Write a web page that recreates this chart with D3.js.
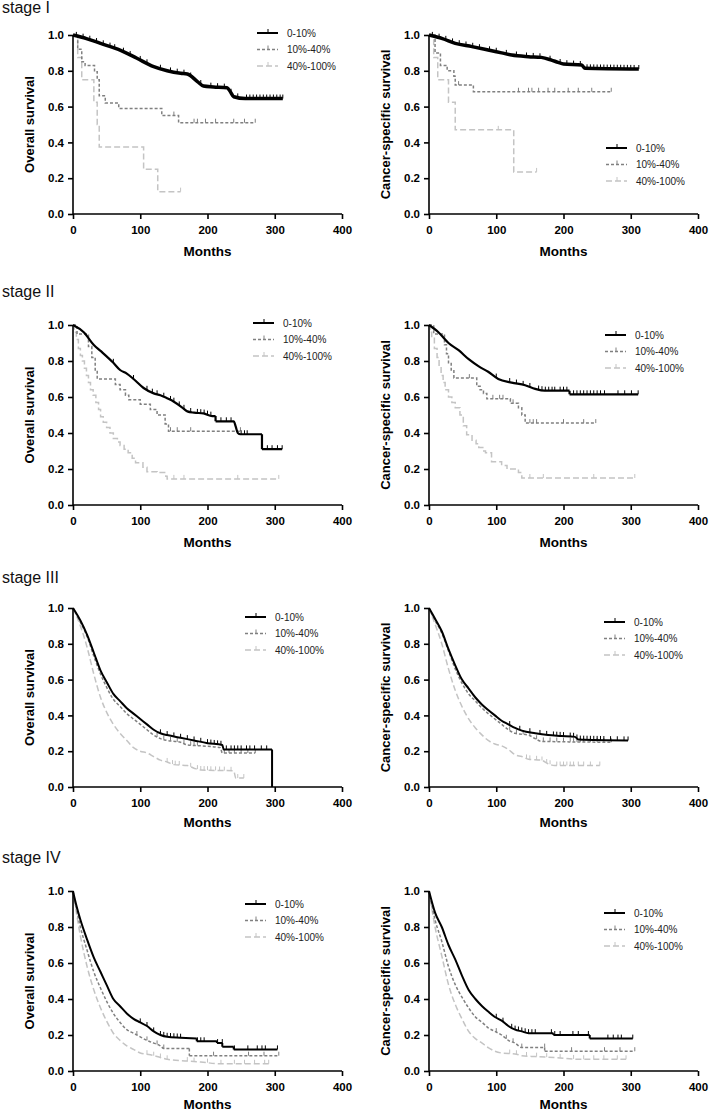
<!DOCTYPE html>
<html>
<head>
<meta charset="utf-8">
<script src="https://cdn.jsdelivr.net/npm/d3@7/dist/d3.min.js"></script>
<style>
html,body{margin:0;padding:0;background:#fff;}
svg{display:block;}
text{font-family:"Liberation Sans",Arial,Helvetica,sans-serif;}
</style>
</head>
<body>
<svg id="chart" width="709" height="1111"></svg>
<script>
// ---------- Data ----------
const stageTitles = ["stage I", "stage II", "stage III", "stage IV"];
const yLabels = ["Overall survival", "Cancer-specific survival"];
const xLabel = "Months";
const groups = ["0-10%", "10%-40%", "40%-100%"];
const xTicks = [0, 100, 200, 300, 400];
const yTicks = [0, 0.2, 0.4, 0.6, 0.8, 1.0];

// Stage I, overall survival
const os1_hi = [[0,1],[20,0.98],[41,0.953],[70,0.916],[95,0.87],[120,0.823],[140,0.8],[160,0.786],[170,0.782],[185,0.74],[194,0.715],[209,0.71],[229,0.705],[234,0.683],[239,0.655],[256,0.645],[312,0.645]];
const os1_hi_c = [5,15,25,35,45,55,62,75,85,100,110,130,145,155,165,175,190,205,215,225,235,245,258,263,268,273,278,283,288,293,298,303,308,312];
const os1_mid = [[0,1],[7,0.92],[13,0.85],[18,0.83],[32,0.795],[36,0.75],[39,0.66],[48,0.62],[68,0.59],[132,0.55],[157,0.51],[271,0.51]];
const os1_mid_c = [150,180,185,197,212,239,255,271];
const os1_lo = [[0,1],[7,0.875],[13,0.75],[31,0.625],[36,0.5],[39,0.375],[105,0.25],[126,0.125],[160,0.125]];
const os1_lo_c = [160];
// Stage I, cancer-specific survival
const css1_hi = [[0,1],[20,0.98],[39,0.953],[64,0.935],[88,0.916],[108,0.9],[123,0.888],[148,0.879],[167,0.875],[182,0.86],[192,0.847],[200,0.838],[227,0.832],[232,0.814],[312,0.81]];
const css1_hi_c = [5,15,25,35,45,55,65,75,90,100,115,130,145,155,165,180,195,205,215,225,235,240,245,250,255,260,265,270,275,280,285,290,295,300,305,312];
const css1_mid = [[0,1],[9,0.9],[17,0.83],[27,0.8],[37,0.77],[39,0.72],[66,0.683],[271,0.683]];
const css1_mid_c = [44,133,148,153,163,177,187,207,222,242,271];
const css1_lo = [[0,1],[7,0.875],[13,0.75],[29,0.625],[39,0.47],[126,0.235],[160,0.235]];
const css1_lo_c = [103,160];

// Stage II, overall survival
const os2_hi = [[0,1],[16,0.96],[31,0.889],[41,0.856],[60,0.79],[70,0.75],[80,0.73],[90,0.70],[105,0.65],[120,0.62],[130,0.61],[140,0.593],[150,0.574],[162,0.543],[170,0.52],[180,0.513],[194,0.509],[207,0.494],[212,0.494],[212,0.465],[239,0.465],[242,0.435],[245,0.40],[249,0.393],[281,0.393],[281,0.31],[311,0.31]];
const os2_hi_c = [60,90,110,118,125,135,145,150,158,165,175,185,190,195,200,205,220,228,235,250,255,259,289,296,304,311];
const os2_mid = [[0,1],[6,0.95],[23,0.88],[28,0.82],[33,0.75],[36,0.70],[63,0.67],[70,0.64],[78,0.61],[83,0.585],[100,0.56],[115,0.53],[125,0.50],[137,0.45],[142,0.41],[249,0.41]];
const os2_mid_c = [145,155,175,249];
const os2_lo = [[0,1],[2,0.96],[5,0.92],[8,0.87],[11,0.83],[14,0.80],[17,0.76],[20,0.72],[23,0.68],[26,0.64],[30,0.61],[34,0.57],[38,0.53],[41,0.49],[45,0.46],[50,0.43],[55,0.40],[60,0.37],[66,0.35],[70,0.33],[76,0.31],[82,0.29],[88,0.26],[93,0.235],[104,0.21],[110,0.185],[125,0.18],[138,0.16],[140,0.145],[306,0.145]];
const os2_lo_c = [150,165,245,306];
// Stage II, cancer-specific survival
const css2_hi = [[0,1],[14,0.96],[29,0.9],[44,0.86],[59,0.81],[74,0.77],[88,0.74],[103,0.70],[123,0.68],[143,0.665],[158,0.645],[172,0.635],[209,0.635],[209,0.615],[311,0.615]];
const css2_hi_c = [100,120,130,140,150,163,168,173,178,183,187,195,200,205,215,220,225,230,235,240,245,250,255,261,281,291,301,311];
const css2_mid = [[0,1],[7,0.95],[23,0.89],[26,0.84],[29,0.79],[33,0.75],[37,0.705],[71,0.66],[76,0.64],[81,0.62],[86,0.59],[121,0.565],[133,0.54],[138,0.50],[143,0.455],[248,0.455]];
const css2_mid_c = [60,95,105,110,125,150,155,160,200,230,248];
const css2_lo = [[0,1],[2,0.96],[4,0.93],[8,0.87],[12,0.82],[15,0.77],[18,0.72],[21,0.68],[24,0.64],[29,0.60],[34,0.57],[39,0.54],[46,0.50],[51,0.44],[56,0.39],[64,0.36],[70,0.34],[74,0.32],[80,0.30],[84,0.29],[93,0.24],[108,0.22],[116,0.20],[133,0.18],[138,0.15],[306,0.15]];
const css2_lo_c = [150,170,245,306];

// Stage III, overall survival
const os3_hi = [[0,1],[11,0.93],[21,0.85],[31,0.75],[41,0.65],[51,0.58],[60,0.52],[70,0.48],[80,0.44],[90,0.41],[100,0.38],[110,0.35],[120,0.32],[130,0.30],[140,0.29],[160,0.275],[180,0.26],[200,0.245],[222,0.235],[224,0.21],[296,0.21],[296,0]];
const os3_hi_c = [130,140,150,160,170,180,190,200,205,210,215,220,228,235,240,245,250,258,263,270,280,288];
const os3_mid = [[0,1],[11,0.92],[21,0.84],[31,0.73],[41,0.63],[51,0.55],[60,0.49],[70,0.45],[80,0.41],[90,0.38],[100,0.35],[110,0.32],[120,0.29],[130,0.27],[140,0.26],[160,0.25],[170,0.235],[190,0.23],[219,0.22],[222,0.19],[271,0.19]];
const os3_mid_c = [125,135,145,155,165,175,180,185,225,232,240,250,260,271];
const os3_lo = [[0,1],[11,0.9],[21,0.78],[31,0.63],[41,0.5],[51,0.41],[60,0.35],[70,0.30],[80,0.26],[90,0.22],[100,0.2],[110,0.19],[120,0.17],[130,0.15],[140,0.14],[150,0.125],[170,0.12],[180,0.105],[190,0.095],[239,0.09],[242,0.05],[254,0.05]];
const os3_lo_c = [140,148,152,158,175,185,190,195,200,205,212,218,225,235,245,254];
// Stage III, cancer-specific survival
const css3_hi = [[0,1],[9,0.94],[19,0.87],[29,0.77],[39,0.68],[49,0.60],[59,0.55],[69,0.50],[79,0.46],[88,0.43],[98,0.40],[108,0.37],[118,0.35],[128,0.33],[138,0.315],[158,0.30],[177,0.29],[197,0.285],[217,0.28],[222,0.265],[296,0.26]];
const css3_hi_c = [120,135,150,165,175,185,190,195,200,210,215,220,225,230,235,240,245,250,255,260,270,280,290,296];
const css3_mid = [[0,1],[9,0.93],[19,0.86],[29,0.76],[39,0.66],[49,0.58],[59,0.52],[69,0.48],[79,0.44],[88,0.41],[98,0.38],[108,0.35],[118,0.32],[128,0.30],[148,0.29],[158,0.27],[167,0.255],[271,0.25]];
const css3_mid_c = [120,130,140,150,160,170,180,190,200,210,215,220,225,230,240,250,260,271];
const css3_lo = [[0,1],[9,0.91],[19,0.80],[29,0.66],[39,0.54],[49,0.45],[59,0.38],[69,0.33],[79,0.29],[88,0.26],[98,0.24],[108,0.23],[118,0.21],[128,0.18],[138,0.17],[148,0.155],[167,0.15],[177,0.13],[187,0.12],[254,0.12]];
const css3_lo_c = [145,150,160,168,175,180,190,195,200,205,210,215,222,230,240,254];

// Stage IV, overall survival
const os4_hi = [[0,1],[3,0.95],[11,0.84],[21,0.73],[31,0.63],[41,0.55],[51,0.47],[60,0.40],[70,0.36],[80,0.32],[90,0.29],[100,0.27],[110,0.25],[120,0.22],[130,0.20],[140,0.19],[160,0.185],[184,0.18],[184,0.165],[214,0.165],[214,0.155],[222,0.155],[222,0.135],[239,0.135],[239,0.12],[304,0.12]];
const os4_hi_c = [100,110,120,130,135,140,145,150,155,160,185,190,195,215,222,240,260,274,281,286,304];
const os4_mid = [[0,1],[11,0.8],[21,0.67],[31,0.55],[41,0.46],[51,0.38],[60,0.32],[70,0.27],[80,0.23],[90,0.21],[100,0.19],[110,0.17],[120,0.155],[130,0.14],[135,0.125],[173,0.125],[173,0.085],[306,0.085]];
const os4_mid_c = [95,110,125,135,209,261,284,306];
const os4_lo = [[0,1],[11,0.75],[21,0.58],[31,0.45],[41,0.35],[51,0.27],[60,0.21],[70,0.17],[80,0.14],[90,0.12],[100,0.10],[115,0.09],[130,0.075],[140,0.065],[170,0.055],[190,0.05],[219,0.04],[291,0.04]];
const os4_lo_c = [110,120,130,140,170,180,200,220,240,255,270,285,291];
// Stage IV, cancer-specific survival
const css4_hi = [[0,1],[9,0.88],[19,0.80],[29,0.70],[39,0.62],[49,0.53],[59,0.45],[69,0.40],[79,0.36],[88,0.33],[98,0.30],[108,0.28],[118,0.25],[128,0.23],[138,0.22],[148,0.21],[185,0.21],[185,0.20],[239,0.20],[239,0.18],[303,0.18]];
const css4_hi_c = [100,110,123,128,133,138,143,148,153,158,182,187,195,214,222,237,266,274,281,286,303];
const css4_mid = [[0,1],[9,0.84],[19,0.72],[29,0.58],[39,0.48],[49,0.41],[59,0.35],[69,0.30],[79,0.27],[88,0.24],[98,0.22],[108,0.20],[118,0.17],[128,0.155],[138,0.13],[172,0.13],[172,0.11],[306,0.11]];
const css4_mid_c = [100,115,125,138,172,212,261,284,306];
const css4_lo = [[0,1],[9,0.80],[19,0.64],[29,0.48],[39,0.37],[49,0.29],[59,0.22],[69,0.18],[79,0.155],[88,0.13],[98,0.11],[108,0.10],[128,0.095],[138,0.085],[158,0.08],[187,0.075],[222,0.065],[293,0.065]];
const css4_lo_c = [120,130,145,160,175,195,215,230,245,260,280,293];

// ---------- Layout / styles ----------
const colX = [73, 429];
const plotW = 269;
const rowTop = [35, 325, 608, 891];
const rowH = [179, 180, 179, 180];
const titleY = [13, 297, 583, 863];
const monthsDy = [42, 41.5, 39.5, 37.5];
const styles = [
  {color:"#000000", width:2,   dash:null},
  {color:"#808080", width:1.5, dash:"3,2"},
  {color:"#c4c4c4", width:1.5, dash:"6,3"}
];

const panels = [
  {r:0,c:0, curves:[[os1_hi,os1_hi_c,false],[os1_mid,os1_mid_c,true],[os1_lo,os1_lo_c,true]], leg:[184,-2], hiW:3.5},
  {r:0,c:1, curves:[[css1_hi,css1_hi_c,false],[css1_mid,css1_mid_c,true],[css1_lo,css1_lo_c,true]], leg:[177,113], hiW:3.5},
  {r:1,c:0, curves:[[os2_hi,os2_hi_c,false],[os2_mid,os2_mid_c,true],[os2_lo,os2_lo_c,true]], leg:[180,-2], hiW:2.2},
  {r:1,c:1, curves:[[css2_hi,css2_hi_c,false],[css2_mid,css2_mid_c,true],[css2_lo,css2_lo_c,true]], leg:[176,10], hiW:2.2},
  {r:2,c:0, curves:[[os3_hi,os3_hi_c,false],[os3_mid,os3_mid_c,false],[os3_lo,os3_lo_c,false]], leg:[172,9], hiW:2},
  {r:2,c:1, curves:[[css3_hi,css3_hi_c,false],[css3_mid,css3_mid_c,false],[css3_lo,css3_lo_c,false]], leg:[175,14], hiW:2},
  {r:3,c:0, curves:[[os4_hi,os4_hi_c,false],[os4_mid,os4_mid_c,false],[os4_lo,os4_lo_c,false]], leg:[172,13], hiW:2},
  {r:3,c:1, curves:[[css4_hi,css4_hi_c,false],[css4_mid,css4_mid_c,false],[css4_lo,css4_lo_c,false]], leg:[175,22], hiW:2}
];

function survAt(pts, t, step) {
  if (step) {
    let s = pts[0][1];
    for (const p of pts) { if (p[0] <= t) s = p[1]; }
    return s;
  }
  for (let i = 0; i < pts.length - 1; i++) {
    const a = pts[i], b = pts[i+1];
    if (t >= a[0] && t <= b[0] && b[0] > a[0]) {
      return a[1] + (b[1] - a[1]) * (t - a[0]) / (b[0] - a[0]);
    }
  }
  return pts[pts.length - 1][1];
}

// smooth path through runs of increasing time, straight vertical drops where times repeat
function smoothPath(pts, x, y) {
  const gen = d3.line().x(d => x(d[0])).y(d => y(d[1])).curve(d3.curveMonotoneX);
  let runs = [[pts[0]]];
  for (let i = 1; i < pts.length; i++) {
    const cur = runs[runs.length - 1];
    if (pts[i][0] === cur[cur.length - 1][0]) runs.push([cur[cur.length - 1], pts[i]]), runs.push([pts[i]]);
    else cur.push(pts[i]);
  }
  let d = "";
  runs.forEach(r => {
    if (r.length < 2) return;
    if (r[0][0] === r[1][0]) d += `M${x(r[0][0])},${y(r[0][1])}V${y(r[1][1])}`;
    else d += gen(r);
  });
  return d;
}

const svg = d3.select("#chart");

panels.forEach(pn => {
  const x0 = colX[pn.c], y0 = rowTop[pn.r], h = rowH[pn.r];
  const g = svg.append("g").attr("transform", `translate(${x0},${y0})`);
  const x = d3.scaleLinear().domain([0, 400]).range([0, plotW]);
  const y = d3.scaleLinear().domain([0, 1]).range([h, 0]);

  [2,1,0].forEach(k => {
    const [pts, cens, step] = pn.curves[k];
    const st = styles[k];
    const w = k === 0 ? pn.hiW : st.width;
    const d = step
      ? d3.line().x(p => x(p[0])).y(p => y(p[1])).curve(d3.curveStepAfter)(pts)
      : smoothPath(pts, x, y);
    g.append("path").attr("d", d)
      .attr("fill", "none").attr("stroke", st.color).attr("stroke-width", w)
      .attr("stroke-dasharray", st.dash).attr("stroke-linejoin", "miter");
    g.append("g").selectAll("line").data(cens).join("line")
      .attr("x1", t => x(t)).attr("x2", t => x(t))
      .attr("y1", t => y(survAt(pts, t, step)))
      .attr("y2", t => y(survAt(pts, t, step)) - 4)
      .attr("stroke", st.color).attr("stroke-width", 1);
  });

  const xa = g.append("g").attr("transform", `translate(0,${h})`)
    .call(d3.axisBottom(x).tickValues(xTicks).tickSize(5).tickPadding(7).tickFormat(d3.format("d")));
  const ya = g.append("g")
    .call(d3.axisLeft(y).tickValues(yTicks).tickSize(5).tickPadding(4).tickFormat(d3.format(".1f")));
  [xa, ya].forEach(a => {
    a.select(".domain").attr("stroke", "#000").attr("stroke-width", 1.6);
    a.selectAll(".tick line").attr("stroke", "#000").attr("stroke-width", 1.6);
    a.selectAll(".tick text").attr("fill", "#000").style("font-size", "11.5px").style("font-weight", "bold")
      .style("font-family", '"Liberation Sans", Arial, sans-serif');
  });
  xa.select(".domain").attr("d", `M0,0H${plotW}`);
  ya.select(".domain").attr("d", `M0,${h}V0`);

  g.append("text").attr("x", plotW / 2).attr("y", h + monthsDy[pn.r]).attr("text-anchor", "middle")
    .style("font-size", "13.5px").style("font-weight", "bold").text(xLabel);
  g.append("text").attr("transform", `translate(-39,${h / 2}) rotate(-90)`).attr("text-anchor", "middle")
    .style("font-size", "13px").style("font-weight", "bold").text(yLabels[pn.c]);

  const [lx, ly] = pn.leg;
  groups.forEach((name, k) => {
    const st = styles[k];
    const yy = ly + k * 16.5;
    g.append("line").attr("x1", lx).attr("x2", lx + 21).attr("y1", yy).attr("y2", yy)
      .attr("stroke", st.color).attr("stroke-width", k === 0 ? 2 : 1.5).attr("stroke-dasharray", st.dash);
    g.append("line").attr("x1", lx + 11).attr("x2", lx + 11).attr("y1", yy).attr("y2", yy - 4)
      .attr("stroke", st.color).attr("stroke-width", 1);
    g.append("text").attr("x", lx + 30).attr("y", yy + 3.5).style("font-size", "10px").attr("fill", "#222").text(name);
  });
});

stageTitles.forEach((t, i) => {
  svg.append("text").attr("x", 2).attr("y", titleY[i]).style("font-size", "16px").attr("fill", "#111").text(t);
});
</script>
</body>
</html>
